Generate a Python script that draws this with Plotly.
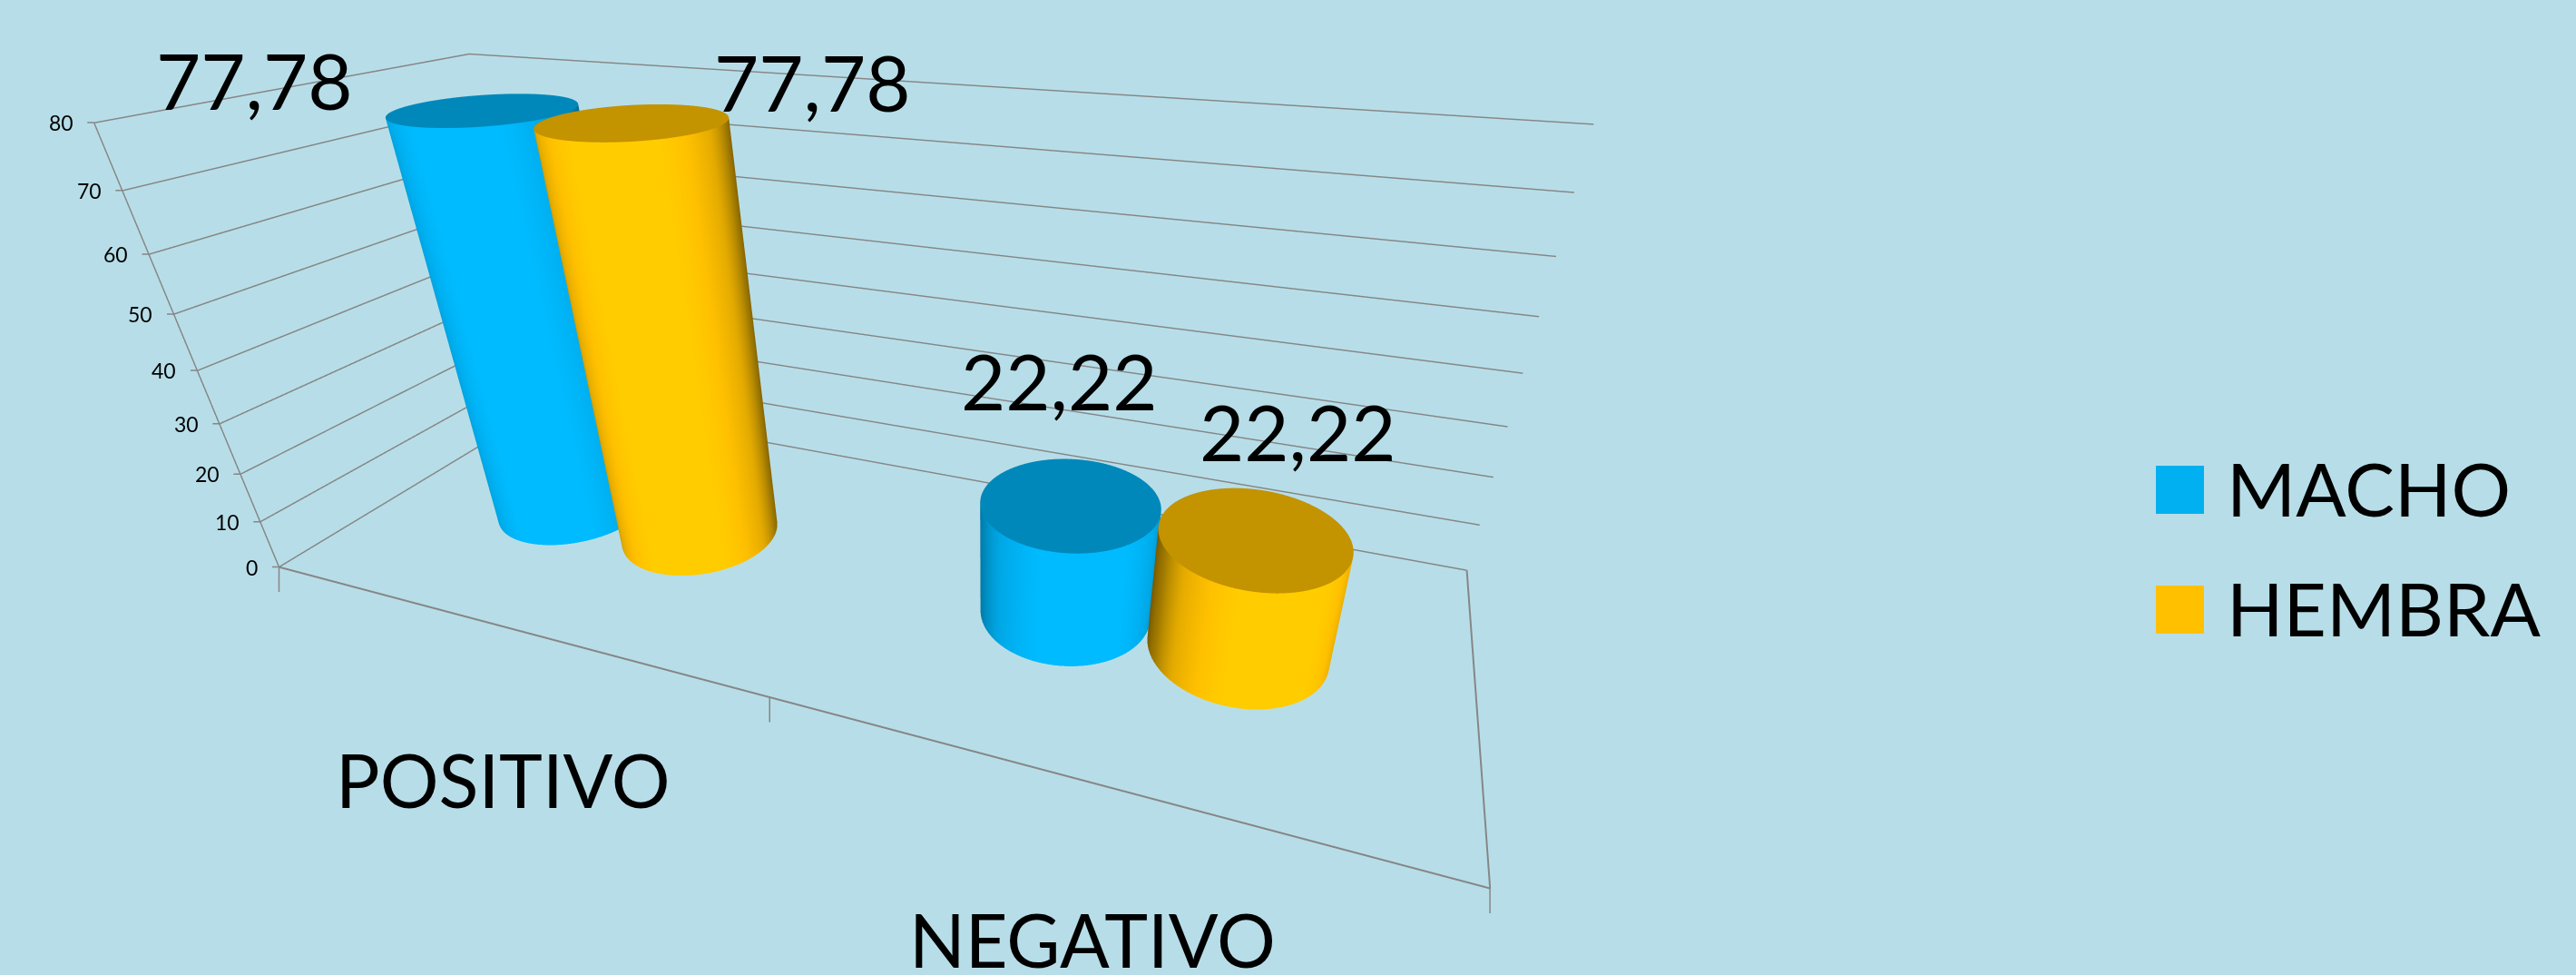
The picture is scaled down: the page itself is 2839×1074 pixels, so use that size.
import numpy as np
import plotly.graph_objects as go

categories = ["POSITIVO", "NEGATIVO"]
series_names = ["MACHO", "HEMBRA"]
macho = [77.78, 22.22]
hembra = [77.78, 22.22]
y_ticks = [0, 10, 20, 30, 40, 50, 60, 70, 80]

W, H = 2839, 1074
BG = "#B7DEE8"
GRID = "#868686"
FONT = "Lato"
ASPECT = dict(x=1.082, y=0.3855, z=0.4147)
EYE = dict(x=0.3821, y=-0.7328, z=0.3685)
CENTER = dict(x=0.0877, y=0.0812, z=-0.1315)

bar_x = {"MACHO": [0.360, 1.359], "HEMBRA": [0.645, 1.645]}
bar_y = 0.50
radius_world = 0.077
rx = radius_world / ASPECT["x"] * 2
ry = radius_world / ASPECT["y"]
styles = {
    "MACHO": dict(scale=[[0, "#006A94"], [0.35, "#0088BA"], [0.65, "#00A6E4"], [1, "#00BBFF"]],
                  cap="#0088BB", legend="#00B0F0"),
    "HEMBRA": dict(scale=[[0, "#7A5A00"], [0.3, "#A07A00"], [0.6, "#E3AA00"], [0.85, "#FFC000"], [1, "#FFCC00"]],
                   cap="#C49300", legend="#FFC000"),
}
label_shift = {"MACHO": [(-254, 32), (-12, 135)], "HEMBRA": [(197, 44), (48, 116)]}

NOLIGHT = dict(ambient=1, diffuse=0, specular=0, fresnel=0, roughness=1)
fig = go.Figure()
annotations = []


def add_cylinder(cx, cy, h, style):
    th = np.linspace(0, 2 * np.pi, 181)
    zz = np.linspace(0, h, 2)
    T, Z = np.meshgrid(th, zz)
    X = cx + rx * np.cos(T)
    Y = cy + ry * np.sin(T)
    shade = np.clip((np.cos(T - np.radians(-65)) + 0.15) / 1.05, 0, 1)
    fig.add_trace(go.Surface(x=X, y=Y, z=Z, surfacecolor=shade, cmin=0, cmax=1,
                             colorscale=style["scale"], showscale=False,
                             lighting=NOLIGHT, hoverinfo="skip"))
    rr = np.linspace(0, 1, 2)
    T2, R2 = np.meshgrid(th, rr)
    fig.add_trace(go.Surface(x=cx + rx * R2 * np.cos(T2), y=cy + ry * R2 * np.sin(T2),
                             z=np.full_like(T2, h), surfacecolor=np.zeros_like(T2), cmin=0, cmax=1,
                             colorscale=[[0, style["cap"]], [1, style["cap"]]], showscale=False,
                             lighting=NOLIGHT, hoverinfo="skip"))


for name, vals in zip(series_names, [macho, hembra]):
    for i, v in enumerate(vals):
        add_cylinder(bar_x[name][i], bar_y, v, styles[name])
        dx, dy = label_shift[name][i]
        annotations.append(dict(x=bar_x[name][i], y=bar_y, z=v, text=f"{v:.2f}".replace(".", ","),
                                showarrow=False, xshift=dx, yshift=dy,
                                font=dict(family=FONT, size=85, color="black")))

# floor edges of the plot box
fig.add_trace(go.Scatter3d(x=[0, 2, 2], y=[0, 0, 1], z=[0, 0, 0], mode="lines",
                           line=dict(color=GRID, width=4), hoverinfo="skip", showlegend=False))

for i, c in enumerate(categories):
    annotations.append(dict(x=i + 0.5, y=0, z=0, text=c, showarrow=False,
                            yshift=-168 if i == 0 else -172,
                            font=dict(family=FONT, size=81, color="black")))
# category-axis tick marks: short screen-vertical strokes from the floor edge
for tick in range(len(categories) + 1):
    annotations.append(dict(x=tick, y=0, z=0, text="", showarrow=True, arrowhead=0, arrowwidth=1.5,
                            arrowcolor=GRID, ax=0, ay=29, standoff=0, startstandoff=0))
# value-axis tick marks and labels, screen-horizontal as in the original
for t in y_ticks:
    annotations.append(dict(x=0, y=0, z=t, text="", showarrow=True, arrowhead=0, arrowwidth=1.5,
                            arrowcolor=GRID, ax=-9, ay=0, standoff=0, startstandoff=0))
    annotations.append(dict(x=0, y=0, z=t, text=str(t), showarrow=False, xanchor="right", yanchor="middle",
                            xshift=-21, font=dict(family=FONT, size=23, color="black")))

axis_common = dict(showbackground=False, showspikes=False, zeroline=False, title=dict(text=""))
scene = dict(
    domain=dict(x=[0, 0.765], y=[0.0726, 0.95]),
    aspectmode="manual", aspectratio=ASPECT,
    camera=dict(eye=EYE, center=CENTER, up=dict(x=0, y=0, z=1),
                projection=dict(type="perspective")),
    xaxis=dict(range=[0, 2], tickmode="array", tickvals=[], showticklabels=False,
               ticks="", showgrid=False, showline=False, **axis_common),
    yaxis=dict(range=[0, 1], tickmode="array", tickvals=[], showticklabels=False,
               ticks="", showgrid=False, showline=False, **axis_common),
    zaxis=dict(range=[0, 80], tickmode="array", tickvals=y_ticks, ticks="", showticklabels=False,
               showgrid=True, gridcolor=GRID, gridwidth=3, showline=True,
               linecolor=GRID, linewidth=3, **axis_common),
    annotations=annotations,
)

shapes, legend_ann = [], []
swatch_y = [(513, 566), (645, 698)]
text_y = [537, 669]
for name, (y0, y1), ty in zip(series_names, swatch_y, text_y):
    shapes.append(dict(type="rect", xref="paper", yref="paper", x0=2376 / W, x1=2429 / W,
                       y0=1 - y1 / H, y1=1 - y0 / H, fillcolor=styles[name]["legend"], line=dict(width=0)))
    legend_ann.append(dict(xref="paper", yref="paper", x=2452 / W, y=1 - ty / H, text=name, showarrow=False,
                           xanchor="left", yanchor="middle", font=dict(family=FONT, size=82, color="black")))

fig.update_layout(width=W, height=H, margin=dict(l=0, r=0, t=0, b=0), paper_bgcolor=BG,
                  showlegend=False, scene=scene, shapes=shapes, annotations=legend_ann)
fig.write_html("out.html", config=dict(displayModeBar=False),
               post_script="document.body.style.margin='0';document.body.style.background='#B7DEE8';")
